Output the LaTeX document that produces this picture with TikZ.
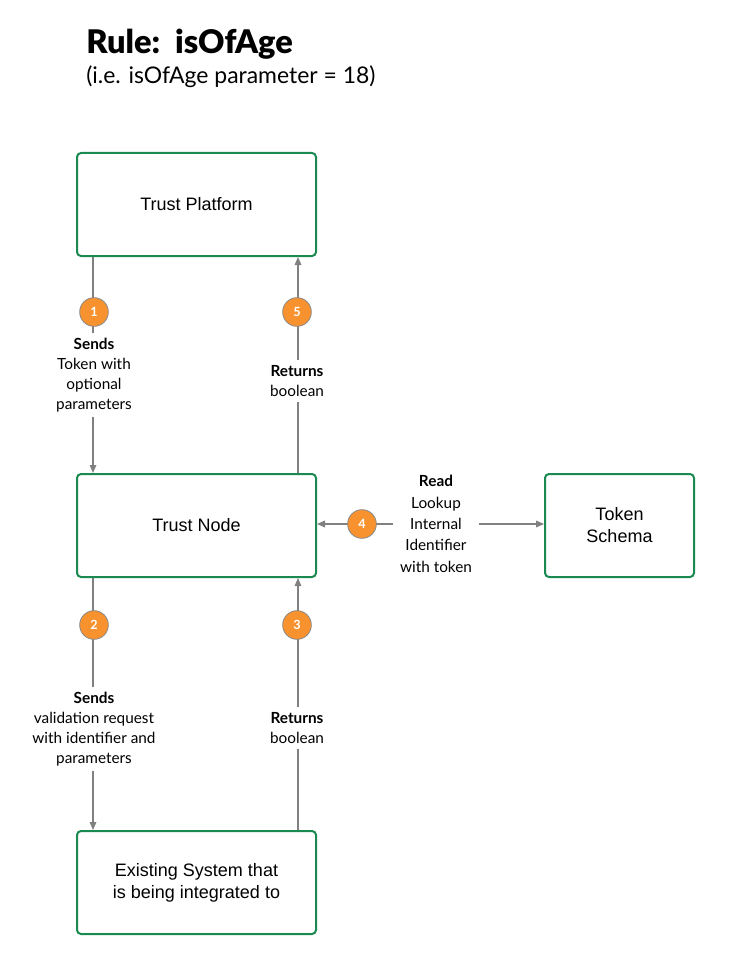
\documentclass[tikz,border=0pt]{standalone}
\usepackage{fontspec}
\setmainfont{Lato}
\newfontfamily\boxfont{Liberation Sans}
\IfFontExistsTF{Lato Black}{\newfontfamily\titlefont{Lato Black}}{\newfontfamily\titlefont{Lato}[UprightFont=*-Bold]}
\usetikzlibrary{arrows.meta}
\definecolor{boxgreen}{HTML}{1B8A50}
\definecolor{linegray}{HTML}{808080}
\definecolor{badge}{HTML}{F7922F}
\definecolor{badgeedge}{HTML}{8A8A8A}
\tikzset{
  box/.style={draw=boxgreen, line width=1.5pt, rounded corners=3pt, fill=white,
    font=\boxfont\fontsize{13.5pt}{16.5pt}\selectfont, align=center, text=black},
  conn/.style={draw=linegray, line width=0.8pt, -{Triangle[length=6pt,width=5pt]}},
  conn2/.style={draw=linegray, line width=0.8pt, {Triangle[length=6pt,width=5pt]}-{Triangle[length=6pt,width=5pt]}},
  badgenode/.style={circle, fill=badge, draw=badgeedge, line width=0.6pt, minimum size=21.5pt, inner sep=0pt,
    text=white, font=\bfseries\fontsize{9.5pt}{10pt}\selectfont},
  elabel/.style={fill=white, align=center, inner xsep=2pt, inner ysep=4pt, text=black,
    font=\fontsize{11.5pt}{15pt}\selectfont},
}
\begin{document}
\begin{tikzpicture}[x=0.75pt,y=-0.75pt]
\useasboundingbox (0,0) rectangle (741,963);
% title
\node[anchor=base west, inner sep=0pt, font=\titlefont\fontsize{24.4pt}{28pt}\selectfont] (title) at (86,54) {Rule:\ \ isOfAge};
\node[anchor=base west, inner sep=0pt, font=\fontsize{17.2pt}{18pt}\selectfont] (subtitle) at (86,84) {(i.e. isOfAge parameter = 18)};
% boxes
\node[box, minimum width=179.25pt, minimum height=77.25pt] (tp) at (196.5,204.5) {Trust Platform};
\node[box, minimum width=179.25pt, minimum height=77.25pt] (tn) at (196.5,525.5) {Trust Node};
\node[box, minimum width=111.75pt, minimum height=77.25pt] (ts) at (619.5,525.5) {Token\\Schema};
\node[box, minimum width=179.25pt, minimum height=77.25pt] (es) at (196.5,882.5) {Existing System that\\is being integrated to};
% connectors
\draw[conn] ([xshift=12.75pt]tp.south west) -- ([xshift=12.75pt]tn.north west);
\draw[conn] ([xshift=-14.25pt]tn.north east) -- ([xshift=-14.25pt]tp.south east);
\draw[conn] ([xshift=12.75pt]tn.south west) -- ([xshift=12.75pt]es.north west);
\draw[conn] ([xshift=-14.25pt]es.north east) -- ([xshift=-14.25pt]tn.south east);
\draw[conn2] (tn.east |- 0,524) -- (ts.west |- 0,524);
% badges
\node[badgenode] (b1) at (94,312) {1};
\node[badgenode] (b5) at (297,312) {5};
\node[badgenode] (b2) at (94,625) {2};
\node[badgenode] (b3) at (297,625) {3};
\node[badgenode] (b4) at (362,524) {4};
% labels
\node[elabel] (l1) at (94,375) {\textbf{Sends}\\Token with\\optional\\parameters};
\node[elabel] (l5) at (297,381) {\textbf{Returns}\\boolean};
\node[elabel] (l2) at (94,729) {\textbf{Sends}\\validation request\\with identifier and\\parameters};
\node[elabel] (l3) at (297,728) {\textbf{Returns}\\boolean};
\node[elabel, minimum width=64.5pt, font=\fontsize{11.5pt}{16pt}\selectfont] (l4) at (436,524) {\textbf{Read}\\Lookup\\Internal\\Identifier\\with token};
\end{tikzpicture}
\end{document}
